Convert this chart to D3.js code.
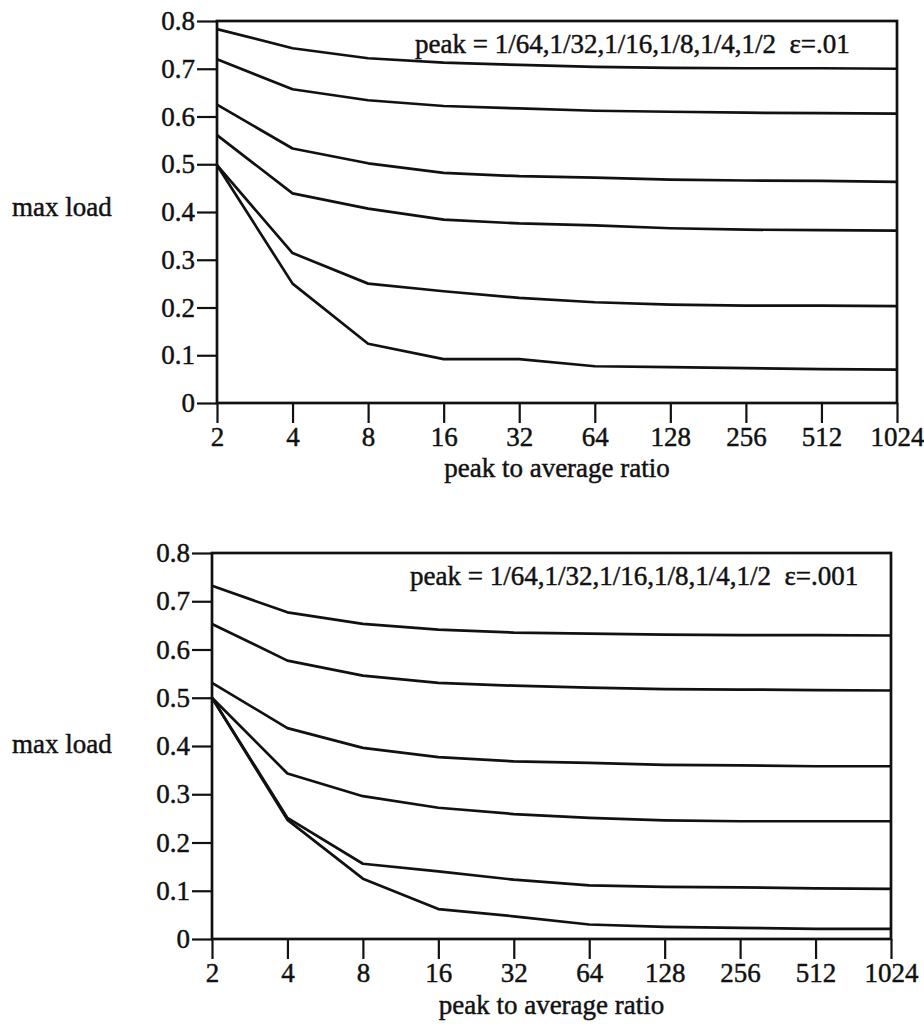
<!DOCTYPE html>
<html>
<head>
<meta charset="utf-8">
<script src="https://cdn.jsdelivr.net/npm/d3@7"></script>
<style>
  html, body { margin: 0; padding: 0; background: #fff; }
</style>
</head>
<body>
<svg id="chart" width="924" height="1033"></svg>
<script>
// ---- data ----
const ratios = [2, 4, 8, 16, 32, 64, 128, 256, 512, 1024];
const yTicks = [0, 0.1, 0.2, 0.3, 0.4, 0.5, 0.6, 0.7, 0.8];
const peakLabels = ["1/64", "1/32", "1/16", "1/8", "1/4", "1/2"];

// epsilon = .01 (top panel), curves listed from top to bottom
const eps01_a = [0.783, 0.743, 0.722, 0.713, 0.708, 0.704, 0.702, 0.701, 0.701, 0.700];
const eps01_b = [0.720, 0.657, 0.634, 0.622, 0.617, 0.612, 0.610, 0.608, 0.607, 0.606];
const eps01_c = [0.625, 0.533, 0.502, 0.482, 0.475, 0.472, 0.468, 0.466, 0.465, 0.463];
const eps01_d = [0.561, 0.439, 0.407, 0.384, 0.376, 0.372, 0.366, 0.363, 0.362, 0.361];
const eps01_e = [0.498, 0.314, 0.250, 0.234, 0.220, 0.211, 0.206, 0.204, 0.204, 0.203];
const eps01_f = [0.498, 0.250, 0.124, 0.092, 0.092, 0.077, 0.075, 0.073, 0.071, 0.070];

// epsilon = .001 (bottom panel), curves listed from top to bottom
const eps001_a = [0.732, 0.677, 0.653, 0.641, 0.635, 0.633, 0.631, 0.630, 0.630, 0.629];
const eps001_b = [0.653, 0.577, 0.546, 0.531, 0.525, 0.521, 0.518, 0.517, 0.516, 0.515];
const eps001_c = [0.531, 0.437, 0.396, 0.377, 0.368, 0.365, 0.361, 0.360, 0.358, 0.358];
const eps001_d = [0.500, 0.343, 0.296, 0.272, 0.259, 0.251, 0.246, 0.244, 0.244, 0.244];
const eps001_e = [0.500, 0.251, 0.156, 0.140, 0.123, 0.111, 0.108, 0.107, 0.105, 0.104];
const eps001_f = [0.500, 0.247, 0.125, 0.062, 0.047, 0.030, 0.025, 0.023, 0.021, 0.021];

const panels = [
  { eps: ".01",  series: [eps01_a, eps01_b, eps01_c, eps01_d, eps01_e, eps01_f],
    box: { left: 217, right: 897, top: 21, bottom: 403 },
    xTitleY: 477, yTitleY: 216 },
  { eps: ".001", series: [eps001_a, eps001_b, eps001_c, eps001_d, eps001_e, eps001_f],
    box: { left: 212, right: 891, top: 553, bottom: 939 },
    xTitleY: 1014, yTitleY: 753 }
];

const FONT = '"Liberation Serif", Times, serif';
const FS = 27;
const INK = "#111";

const svg = d3.select("#chart");

function styleText(sel) {
  sel.attr("font-family", FONT)
     .style("font-family", FONT)
     .attr("font-size", FS)
     .attr("fill", INK)
     .attr("stroke", INK)
     .attr("stroke-width", 0.45);
}

panels.forEach(p => {
  const b = p.box;
  const x = d3.scaleLog().base(2).domain([2, 1024]).range([b.left, b.right]);
  const y = d3.scaleLinear().domain([0, 0.8]).range([b.bottom, b.top]);
  const g = svg.append("g");

  // lines
  const line = d3.line().x((d, i) => x(ratios[i])).y(d => y(d));
  g.selectAll("path.series").data(p.series).enter().append("path")
    .attr("class", "series")
    .attr("d", line)
    .attr("fill", "none")
    .attr("stroke", INK)
    .attr("stroke-width", 2.7)
    .attr("stroke-linejoin", "round");

  // frame
  g.append("rect")
    .attr("x", b.left).attr("y", b.top)
    .attr("width", b.right - b.left).attr("height", b.bottom - b.top)
    .attr("fill", "none").attr("stroke", INK).attr("stroke-width", 2.7);

  // y axis
  const yAxis = d3.axisLeft(y).tickValues(yTicks).tickSize(20).tickPadding(2)
    .tickFormat(v => v === 0 ? "0" : d3.format(".1f")(v));
  const ya = g.append("g").attr("transform", `translate(${b.left},0)`).call(yAxis);
  ya.select(".domain").remove();
  ya.selectAll(".tick line").attr("stroke", INK).attr("stroke-width", 2.2);
  styleText(ya.selectAll(".tick text"));

  // x axis
  const xAxis = d3.axisBottom(x).tickValues(ratios).tickSize(20).tickPadding(4)
    .tickFormat(d3.format("d"));
  const xa = g.append("g").attr("transform", `translate(0,${b.bottom})`).call(xAxis);
  xa.select(".domain").remove();
  xa.selectAll(".tick line").attr("stroke", INK).attr("stroke-width", 2.2);
  styleText(xa.selectAll(".tick text"));

  // legend text
  styleText(g.append("text")
    .attr("x", b.left + 198).attr("y", b.top + 32)
    .attr("xml:space", "preserve")
    .text("peak = " + peakLabels.join(",") + "  \u03B5=" + p.eps));

  // axis titles
  styleText(g.append("text")
    .attr("x", 12).attr("y", p.yTitleY)
    .text("max load"));
  styleText(g.append("text")
    .attr("x", (b.left + b.right) / 2).attr("y", p.xTitleY)
    .attr("text-anchor", "middle")
    .text("peak to average ratio"));
});
</script>
</body>
</html>
